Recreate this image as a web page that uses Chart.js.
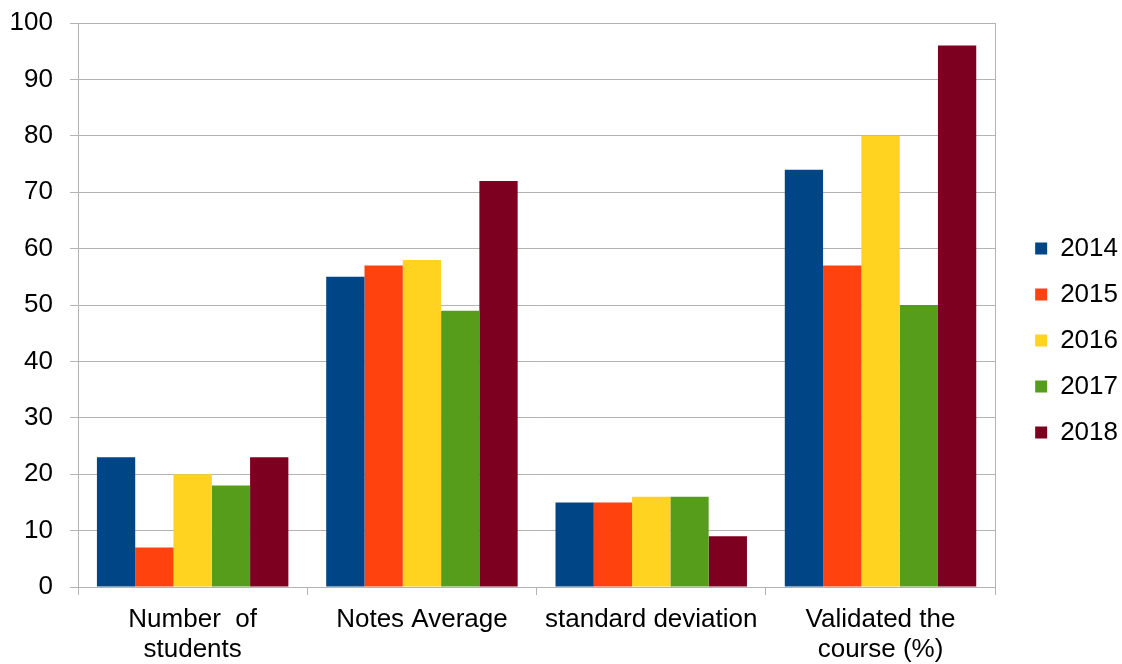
<!DOCTYPE html>
<html>
<head>
<meta charset="utf-8">
<script src="https://cdn.jsdelivr.net/npm/chart.js@4"></script>
<style>
  body { margin: 0; background: #fff; }
  #wrap { width: 1122px; height: 664px; }
</style>
</head>
<body>
<div id="wrap"><canvas id="chart" width="1122" height="664"></canvas></div>
<script>
// data
const categories = [['Number  of', 'students'], 'Notes Average', 'standard deviation', ['Validated the', 'course (%)']];
const years = ['2014', '2015', '2016', '2017', '2018'];
const values2014 = [23, 55, 15, 74];
const values2015 = [7, 57, 15, 57];
const values2016 = [20, 58, 16, 80];
const values2017 = [18, 49, 16, 50];
const values2018 = [23, 72, 9, 96];
const colors = ['#004586', '#ff420e', '#ffd320', '#579d1c', '#7e0021'];

const series = [values2014, values2015, values2016, values2017, values2018];
const gridGray = '#b3b3b3';
const font = { family: '"Liberation Sans", Arial, sans-serif', size: 26 };

// draws the right edge of the plot frame
const frameRight = {
  id: 'frameRight',
  afterDraw(chart) {
    const { ctx, chartArea } = chart;
    ctx.save();
    ctx.strokeStyle = gridGray;
    ctx.lineWidth = 1;
    ctx.beginPath();
    ctx.moveTo(Math.round(chartArea.right) + 0.5, chartArea.top);
    ctx.lineTo(Math.round(chartArea.right) + 0.5, chartArea.bottom);
    ctx.stroke();
    ctx.restore();
  },
};

const ctx = document.getElementById('chart').getContext('2d');
const chart = new Chart(ctx, {
  type: 'bar',
  data: {
    labels: categories,
    datasets: years.map((year, i) => ({
      label: year,
      data: series[i],
      backgroundColor: colors[i],
      borderWidth: 0,
      barPercentage: 1,
      categoryPercentage: 0.835,
    })),
  },
  options: {
    responsive: false,
    animation: false,
    layout: {
      padding: { left: -2, right: -6, top: 6, bottom: -2 },
    },
    plugins: {
      legend: {
        position: 'right',
        // empty title only nudges the legend items down a little
        title: { display: true, text: '', font: { size: 1 }, padding: { top: 8, bottom: 0 } },
        labels: {
          font: font,
          color: '#000',
          boxWidth: 12,
          boxHeight: 12,
          padding: 20,
        },
      },
      tooltip: { enabled: false },
    },
    scales: {
      x: {
        offset: true,
        grid: {
          offset: true,
          drawOnChartArea: false,
          color: gridGray,
          tickLength: 8,
        },
        border: { color: gridGray },
        ticks: {
          font: { family: font.family, size: 26, lineHeight: 1.15 },
          color: '#000',
          padding: 10,
          maxRotation: 0,
        },
        afterFit: (scale) => { scale.height = 79; },
      },
      y: {
        min: 0,
        max: 100,
        ticks: { stepSize: 10, font: font, color: '#000', padding: 17 },
        grid: { color: gridGray, tickLength: 8 },
        border: { color: gridGray },
        afterFit: (scale) => {
          scale.width = 80;
          scale.paddingTop = 23;
          scale.paddingBottom = 0;
        },
      },
      // empty spacer between the plot frame and the legend
      gap: {
        position: 'right',
        axis: 'y',
        display: true,
        ticks: { display: false },
        grid: { display: false },
        border: { display: false },
        afterFit: (scale) => { scale.width = 20; },
      },
    },
  },
  plugins: [frameRight],
});
</script>
</body>
</html>
